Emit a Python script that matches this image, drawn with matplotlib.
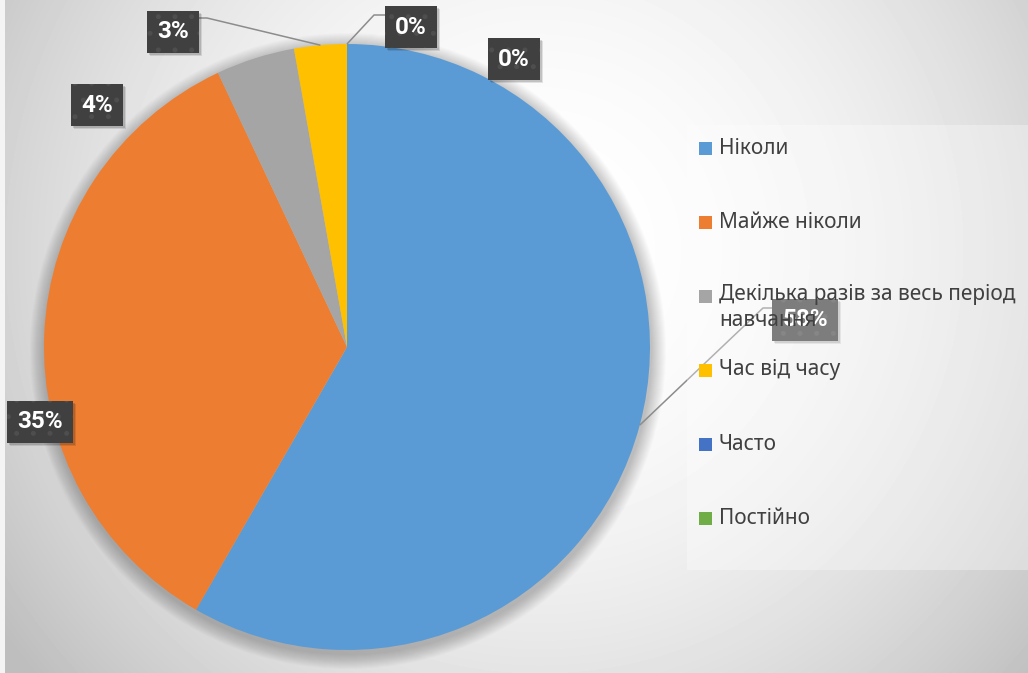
import numpy as np
import matplotlib
matplotlib.use("Agg")
import matplotlib.pyplot as plt
from matplotlib.patches import Rectangle, Circle

plt.rcParams['font.family'] = ['Noto Sans', 'DejaVu Sans']
plt.rcParams['hatch.linewidth'] = 1.2

# data
categories = ['Ніколи', 'Майже ніколи', 'Декілька разів за весь період\nнавчання',
              'Час від часу', 'Часто', 'Постійно']
shares = [58.3, 34.7, 4.2, 2.8, 0.0, 0.0]
pct_labels = ['58%', '35%', '4%', '3%', '0%', '0%']
colors = ['#5B9BD5', '#ED7D31', '#A5A5A5', '#FFC000', '#4472C4', '#70AD47']

W, H = 1028, 673
fig = plt.figure(figsize=(W / 100, H / 100), dpi=100)
ax = fig.add_axes([0, 0, 1, 1])


def py(y):
    # pixel row (from top) -> data y
    return H - y


# background gradient
xx, yy = np.meshgrid(np.arange(W) + 0.5, np.arange(H) + 0.5)
shade = 255 - 1.5e-4 * ((xx - 540) ** 2 + (yy - 250) ** 2)
shade = np.clip(shade, 190, 255)
ax.imshow(shade, cmap='gray', vmin=0, vmax=255, extent=(0, W, 0, H),
          origin='upper', zorder=0, interpolation='bilinear')
ax.add_patch(Rectangle((0, 0), 5, H, fc='#f4f4f4', ec='none', zorder=0.5))

# pie shadow
cx, cy, r = 347, py(347), 303
for k in range(1, 16):
    ax.add_patch(Circle((cx + 1, cy - 4), r + k, fc='black', ec='none',
                        alpha=0.014, zorder=1))

wedges, _ = ax.pie(shares, colors=colors, startangle=90, counterclock=False,
                   center=(cx, cy), radius=r,
                   wedgeprops=dict(linewidth=0, zorder=2))

ax.set_xlim(0, W)
ax.set_ylim(0, H)
ax.set_aspect('auto')
ax.axis('off')

# label layout (pixel coords of box centres) and leader elbows
label_pos = [(805, 320), (40, 422), (97, 105), (173, 32), (411, 27), (514, 59)]
leaders = {0: [(763, 308), (774, 308)],
           3: [(207, 18), (198, 18)],
           4: [(374, 15), (386, 15)]}

for i, w in leaders.items():
    wd = wedges[i]
    mid = np.deg2rad((wd.theta1 + wd.theta2) / 2)
    px = [cx + r * np.cos(mid)] + [p[0] for p in w]
    pyy = [cy + r * np.sin(mid)] + [py(p[1]) for p in w]
    ax.plot(px, pyy, color='#8c8c8c', lw=1.1, zorder=3, solid_capstyle='butt')

labels = []
for i, (lx, ly) in enumerate(label_pos):
    t = ax.text(lx, py(ly), pct_labels[i], color='white', zorder=4,
                fontsize=17.5, fontweight='bold',
                family=['Roboto', 'DejaVu Sans'], ha='center', va='center',
                bbox=dict(boxstyle='square,pad=0.4', fc='#404040',
                          ec='#4e4e4e', lw=0, hatch='.'))
    labels.append(t)

# legend
ax.add_patch(Rectangle((687, py(570)), W - 687, 570 - 125, fc='white',
                       ec='none', alpha=0.32, zorder=5))
for i, name in enumerate(categories):
    yc = 148 + 74 * i
    ax.add_patch(Rectangle((699, py(yc + 7)), 13, 13, fc=colors[i],
                           ec='none', zorder=6))
    if '\n' in name:
        ax.text(719, py(yc - 12), name, ha='left', va='top', fontsize=15,
                color='#404040', zorder=6, linespacing=1.3)
    else:
        ax.text(719, py(yc), name, ha='left', va='center', fontsize=15,
                color='#404040', zorder=6)

# soft drop shadows under the label boxes
fig.canvas.draw()
for t in labels:
    bb = t.get_bbox_patch().get_window_extent()
    for d, a in [(3, 0.10), (2, 0.14)]:
        ax.add_patch(Rectangle((bb.x0 + d, bb.y0 - d), bb.width, bb.height,
                               fc='black', ec='none', alpha=a, zorder=3.8))

ax.set_xlim(0, W)
ax.set_ylim(0, H)
fig.savefig('out.png', dpi=100)
